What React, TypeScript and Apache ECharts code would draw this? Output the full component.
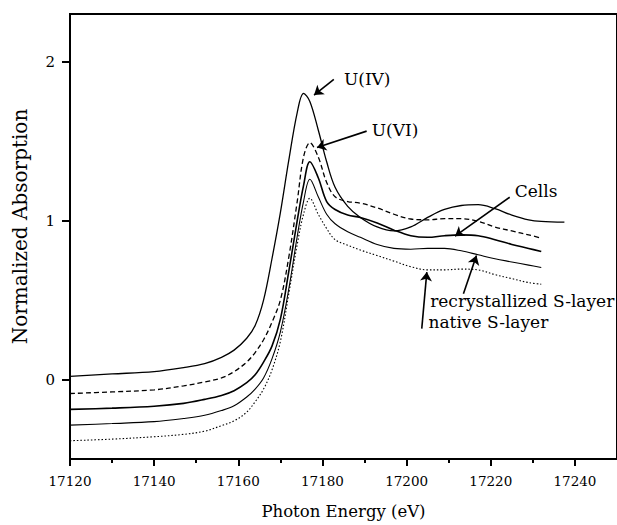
import React, { useEffect, useRef } from "react";
import * as echarts from "echarts";

// Photon energy grid (eV)
const energy = [
  17120, 17130, 17140, 17147, 17152, 17156, 17159, 17162, 17164, 17166, 17168,
  17170, 17172, 17174, 17175.5, 17177, 17179, 17181, 17183, 17186, 17189, 17193,
  17197, 17201, 17205, 17209, 17213, 17217, 17221, 17225, 17229, 17232, 17237.5,
];

// Normalized absorption (offset spectra)
const uIV = [
  0.02, 0.035, 0.05, 0.075, 0.1, 0.14, 0.185, 0.26, 0.34, 0.5, 0.76,
  1.05, 1.38, 1.68, 1.8, 1.75, 1.57, 1.37, 1.21, 1.09, 1.02, 0.96,
  0.935, 0.96, 1.02, 1.07, 1.095, 1.1, 1.075, 1.035, 1.005, 0.995, 0.99,
];
const uVI = [
  -0.088, -0.078, -0.065, -0.04, -0.015, 0.01, 0.05, 0.11, 0.17, 0.25, 0.36,
  0.5, 0.77, 1.12, 1.4, 1.49, 1.4, 1.24, 1.15, 1.12, 1.11, 1.08,
  1.04, 1.01, 1.005, 1.012, 1.012, 0.995, 0.96, 0.935, 0.91, 0.89, null,
];
const cells = [
  -0.188, -0.18, -0.168, -0.15, -0.125, -0.1, -0.07, -0.02, 0.03, 0.11, 0.21,
  0.38, 0.68, 1.0, 1.22, 1.37, 1.27, 1.12, 1.07, 1.035, 1.02, 0.985,
  0.94, 0.905, 0.895, 0.905, 0.91, 0.905, 0.88, 0.85, 0.825, 0.805, null,
];
const recrystallized = [
  -0.287, -0.277, -0.265, -0.245, -0.225, -0.195, -0.165, -0.11, -0.06, 0.01, 0.13,
  0.3, 0.57, 0.9, 1.12, 1.26, 1.15, 1.04, 0.98, 0.93, 0.895, 0.85,
  0.825, 0.82, 0.825, 0.825, 0.81, 0.785, 0.76, 0.74, 0.72, 0.705, null,
];
const nativeSLayer = [
  -0.385, -0.375, -0.36, -0.345, -0.325, -0.29, -0.26, -0.205, -0.14, -0.06, 0.06,
  0.24, 0.54, 0.85, 1.04, 1.14, 1.04, 0.95, 0.88, 0.845, 0.815, 0.78,
  0.745, 0.71, 0.69, 0.69, 0.695, 0.69, 0.66, 0.635, 0.61, 0.6, null,
];

const xMajorTicks = [17120, 17140, 17160, 17180, 17200, 17220, 17240];
const xMinorTicks = [17130, 17150, 17170, 17190, 17210, 17230];
const yTicks = [0, 1, 2];

// Annotation labels and arrows, in data coordinates [energy, absorption]
const annotationTexts = ["U(IV)", "U(VI)", "Cells", "recrystallized S-layer", "native S-layer"];
const annotationTextPos = [
  [17185.1, 1.889],
  [17191.7, 1.569],
  [17225.7, 1.186],
  [17205.6, 0.496],
  [17205.2, 0.364],
];
const arrowFrom = [
  [17182.7, 1.889],
  [17190.5, 1.563],
  [17224.5, 1.147],
  [17213.5, 0.54],
  [17203.6, 0.32],
];
const arrowTo = [
  [17178.0, 1.79],
  [17178.7, 1.46],
  [17211.5, 0.902],
  [17216.6, 0.78],
  [17204.8, 0.676],
];

const FONT = "DejaVu Serif";

function pairs(vals: (number | null)[]) {
  return energy.map((e, i) => [e, vals[i]]);
}

export default function App() {
  const ref = useRef<HTMLDivElement>(null);

  useEffect(() => {
    if (!ref.current) return;
    const chart = echarts.init(ref.current, undefined, { renderer: "svg" });

    const lineBase = {
      type: "line" as const,
      showSymbol: false,
      symbol: "none",
      smooth: 0.35,
      connectNulls: false,
      silent: true,
      xAxisIndex: 0,
      yAxisIndex: 0,
    };

    const arrows = arrowFrom.map((f, i) => [
      { coord: f, symbol: "none" },
      { coord: arrowTo[i], symbol: "arrow" },
    ]);

    chart.setOption({
      animation: false,
      backgroundColor: "#fff",
      grid: {
        left: 70,
        top: 14,
        right: -3,
        bottom: 64,
        show: true,
        borderColor: "#000",
        borderWidth: 2,
        backgroundColor: "transparent",
      },
      xAxis: [
        {
          type: "value",
          min: 17120,
          max: 17250,
          position: "bottom",
          axisLine: { show: true, onZero: false, lineStyle: { color: "#000", width: 2 } },
          axisTick: { show: true, customValues: xMajorTicks, length: 7, lineStyle: { color: "#000", width: 2 } },
          axisLabel: {
            show: true,
            customValues: xMajorTicks,
            formatter: (v: number) => String(v),
            margin: 15,
            color: "#000",
            fontFamily: FONT,
            fontSize: 13.5,
          },
          splitLine: { show: false },
          name: "Photon Energy (eV)",
          nameLocation: "middle",
          nameGap: 44,
          nameTextStyle: { color: "#000", fontFamily: FONT, fontSize: 16.5 },
        },
        {
          type: "value",
          min: 17120,
          max: 17250,
          position: "bottom",
          axisLine: { show: false, onZero: false },
          axisTick: { show: true, customValues: xMinorTicks, length: 4, lineStyle: { color: "#000", width: 2 } },
          axisLabel: { show: false },
          splitLine: { show: false },
        },
      ],
      yAxis: {
        type: "value",
        min: -0.5,
        max: 2.3,
        axisLine: { show: true, onZero: false, lineStyle: { color: "#000", width: 2 } },
        axisTick: { show: true, customValues: yTicks, length: 8, lineStyle: { color: "#000", width: 2 } },
        axisLabel: {
          show: true,
          customValues: yTicks,
          margin: 15,
          color: "#000",
          fontFamily: FONT,
          fontSize: 15,
        },
        splitLine: { show: false },
        name: "Normalized Absorption",
        nameLocation: "middle",
        nameGap: 40,
        nameTextStyle: { color: "#000", fontFamily: FONT, fontSize: 20, padding: [0, 0, 0, 20] },
      },
      series: [
        {
          ...lineBase,
          name: "U(IV)",
          data: pairs(uIV),
          lineStyle: { color: "#000", width: 1.3, type: "solid" },
          markLine: {
            silent: true,
            symbol: ["none", "arrow"],
            symbolSize: 9,
            label: { show: false },
            lineStyle: { color: "#000", width: 1.6, type: "solid" },
            data: arrows,
          },
        },
        {
          ...lineBase,
          name: "U(VI)",
          data: pairs(uVI),
          lineStyle: { color: "#000", width: 1.3, type: [5, 3] },
        },
        {
          ...lineBase,
          name: "Cells",
          data: pairs(cells),
          lineStyle: { color: "#000", width: 1.6, type: "solid" },
        },
        {
          ...lineBase,
          name: "recrystallized S-layer",
          data: pairs(recrystallized),
          lineStyle: { color: "#000", width: 1.1, type: "solid" },
        },
        {
          ...lineBase,
          name: "native S-layer",
          data: pairs(nativeSLayer),
          lineStyle: { color: "#000", width: 1.1, type: [1.5, 2] },
        },
      ],
    });

    const graphics = annotationTexts.map((t, i) => {
      const p = chart.convertToPixel({ xAxisIndex: 0, yAxisIndex: 0 }, annotationTextPos[i]) as number[];
      return {
        type: "text",
        x: p[0],
        y: p[1],
        silent: true,
        style: {
          text: t,
          fill: "#000",
          font: `17px "${FONT}"`,
          textAlign: "left",
          textVerticalAlign: "middle",
        },
      };
    });
    chart.setOption({ graphic: graphics });

    return () => chart.dispose();
  }, []);

  return (
    <div
      ref={ref}
      style={{ position: "fixed", left: 0, top: 0, width: 617, height: 525, background: "#fff" }}
    />
  );
}
